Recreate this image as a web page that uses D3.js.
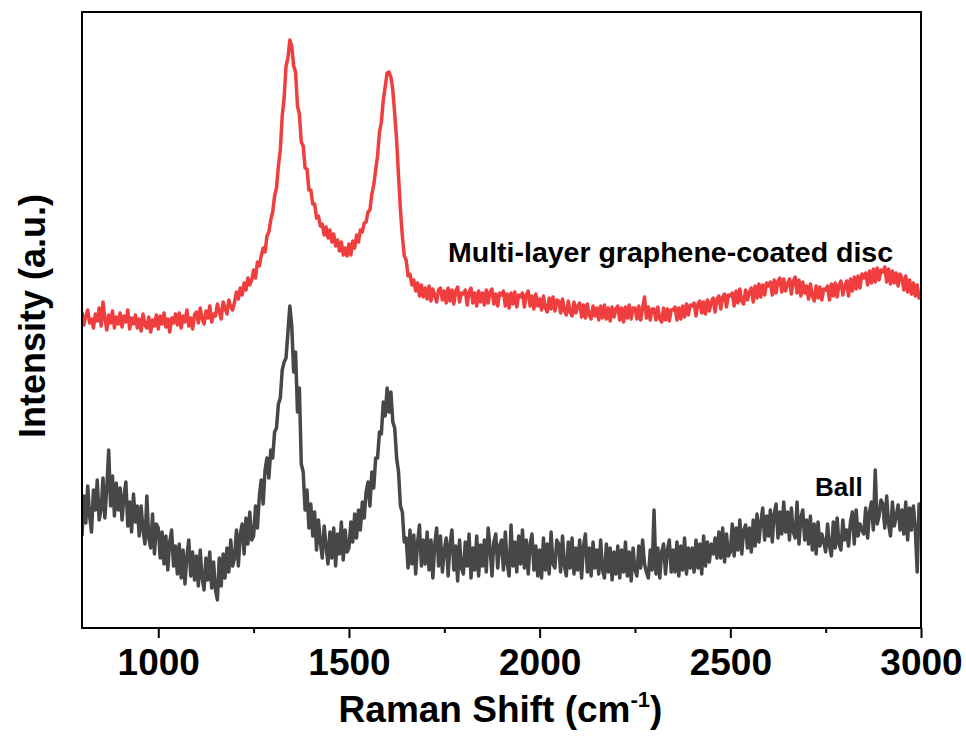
<!DOCTYPE html>
<html>
<head>
<meta charset="utf-8">
<script src="https://cdn.jsdelivr.net/npm/d3@7/dist/d3.min.js"></script>
<style>
  html, body { margin: 0; padding: 0; background: #fff; }
  svg { display: block; font-family: "Liberation Sans", Arial, sans-serif; }
</style>
</head>
<body>
<svg id="chart" width="966" height="738"></svg>
<script>
// Raman spectra sampled every 5 cm-1 from 800 to 3000 cm-1 (intensity in a.u., curves offset)
const shiftStart = 800;
const shiftStep = 5;

const discIntensity = [
  316,303,312,318,305,309,300,314,307,320,
  302,326,310,298,313,305,317,300,311,304,
  315,301,312,306,318,299,310,304,313,300,
  309,297,314,303,300,311,296,308,302,313,
  299,312,304,315,301,309,296,310,305,314,
  303,315,300,312,306,318,302,310,299,313,
  316,305,320,309,304,317,310,322,306,314,
  312,324,317,309,326,320,314,328,321,318,
  326,336,329,340,333,345,338,350,343,348,
  358,350,366,362,372,380,376,392,396,408,
  416,432,440,462,478,512,530,562,570,588,
  582,562,556,522,514,486,482,460,459,438,
  438,424,424,410,412,402,404,393,401,390,
  398,386,394,382,388,377,386,373,380,372,
  384,373,387,380,393,386,398,396,405,406,
  416,418,434,443,458,472,496,506,528,541,
  555,556,551,538,514,488,452,418,392,372,
  368,352,354,343,348,337,345,332,343,331,
  340,329,342,327,339,333,326,338,340,328,
  337,325,340,327,338,324,337,341,326,335,
  334,338,323,336,340,325,335,322,337,326,
  335,323,338,325,336,339,324,334,322,335,
  333,337,322,334,320,335,324,336,321,333,
  331,335,321,333,337,322,332,319,334,322,
  329,318,332,320,316,330,319,331,317,328,
  327,315,329,317,313,327,316,312,326,315,
  322,325,311,323,310,324,313,309,322,312,
  320,308,322,310,323,309,320,307,321,311,
  319,322,308,320,306,321,310,323,309,320,
  320,309,322,308,320,331,310,321,308,319,
  319,308,321,309,306,320,308,319,307,318,
  318,321,308,320,309,322,311,324,313,323,
  322,325,312,324,327,315,326,314,328,317,
  326,330,316,329,332,319,331,334,321,333,
  332,335,322,337,325,339,327,324,338,328,
  336,340,326,342,330,344,331,343,333,345,
  342,346,333,348,335,347,350,336,349,337,
  344,349,334,347,351,335,348,332,346,335,
  342,329,344,332,327,342,330,341,328,339,
  338,342,328,344,332,345,331,343,347,333,
  342,347,332,349,337,351,339,352,340,354,
  350,355,343,357,345,359,346,360,348,358,
  356,361,346,359,344,357,345,355,342,354,
  350,338,352,336,348,334,345,332,343,330,
  336
];

const ballIntensity = [
  92,132,105,142,112,96,138,118,148,108,
  118,150,110,140,178,122,152,112,145,118,
  140,108,132,146,102,126,96,134,106,122,
  92,122,98,84,132,90,80,114,74,104,
  100,70,96,64,92,58,86,98,62,82,
  54,84,50,78,44,72,88,52,76,48,
  72,42,78,50,38,70,48,76,40,66,
  38,28,70,42,74,50,80,56,88,62,
  70,98,62,94,104,74,110,84,116,88,
  92,122,100,132,148,124,158,170,150,178,
  170,196,200,224,230,258,266,270,296,322,
  302,256,276,216,240,164,156,118,138,100,
  124,92,116,78,108,86,70,102,82,64,
  96,70,100,62,94,74,106,68,98,76,
  80,106,86,114,90,118,98,126,110,136,
  146,122,156,140,170,170,196,194,226,212,
  240,216,236,206,200,170,156,122,116,86,
  90,60,98,64,93,54,86,103,62,88,
  64,96,58,88,50,84,100,62,92,56,
  78,90,52,84,98,58,82,47,88,60,
  54,86,62,94,50,80,58,92,52,83,
  62,88,56,100,80,52,86,94,60,82,
  88,58,96,64,52,103,62,86,56,92,
  64,98,60,88,54,84,94,58,82,52,
  78,50,90,58,84,54,96,64,60,88,
  84,56,92,62,52,86,60,90,54,80,
  58,88,50,82,94,56,80,52,86,60,
  78,54,88,58,50,84,56,80,48,76,
  54,82,50,78,56,86,52,76,47,80,
  58,52,82,60,88,64,56,50,78,58,
  118,54,80,50,76,84,54,78,88,56,
  78,56,86,52,82,58,90,54,80,60,
  80,56,88,60,84,54,92,62,86,66,
  84,74,90,70,96,70,100,66,94,72,
  76,104,72,100,78,108,74,98,103,80,
  100,76,108,82,114,86,106,120,88,112,
  92,118,86,114,124,90,116,94,126,96,
  116,88,120,96,90,126,84,110,118,88,
  108,84,112,78,104,74,106,82,94,86,
  76,104,82,72,106,80,110,84,78,108,
  88,98,82,106,116,84,118,92,104,98,
  94,120,90,116,126,98,158,104,112,128,
  124,100,132,104,92,126,102,112,123,98,
  118,94,126,88,120,98,122,100,56,124,
  111
];

const xTicksMajor = [1000, 1500, 2000, 2500, 3000];
const xTicksMinor = [1250, 1750, 2250, 2750];
const seriesNames = ["Multi-layer graphene-coated disc", "Ball"];
const seriesColors = ["#f03e3e", "#474747"];

const svg = d3.select("#chart");
const margin = { left: 82, right: 45, top: 12, bottom: 110 };
const W = 966, H = 738;
const x0 = margin.left, x1 = W - margin.right;
const y0 = H - margin.bottom, y1 = margin.top;

const x = d3.scaleLinear().domain([800, 3000]).range([x0, x1]);
const y = d3.scaleLinear().domain([0, 616]).range([y0, y1]);

const toPoints = arr => arr.map((v, i) => ({ s: shiftStart + i * shiftStep, v }));
const series = [
  { name: seriesNames[0], color: seriesColors[0], pts: toPoints(discIntensity) },
  { name: seriesNames[1], color: seriesColors[1], pts: toPoints(ballIntensity) }
];

svg.append("defs").append("clipPath").attr("id", "plotClip")
  .append("rect").attr("x", x0).attr("y", y1).attr("width", x1 - x0).attr("height", y0 - y1);

const line = d3.line().x(d => x(d.s)).y(d => y(d.v));

svg.append("g").attr("clip-path", "url(#plotClip)")
  .selectAll("path").data(series).join("path")
  .attr("d", d => line(d.pts))
  .attr("fill", "none")
  .attr("stroke", d => d.color)
  .attr("stroke-width", 3.5)
  .attr("stroke-linejoin", "round");

// Bottom axis: major ticks with labels, minor ticks without
const xAxis = d3.axisBottom(x).tickValues(xTicksMajor).tickSize(10).tickSizeOuter(0).tickPadding(11)
  .tickFormat(d3.format("d"));
const gx = svg.append("g").attr("transform", `translate(0,${y0})`).call(xAxis);
gx.select(".domain").remove();
gx.selectAll(".tick line").attr("stroke", "#000").attr("stroke-width", 2);
gx.selectAll(".tick text")
  .attr("font-size", 37).attr("font-weight", "bold").attr("fill", "#000")
  .attr("font-family", "'Liberation Sans', Arial, sans-serif");

const gxm = svg.append("g").attr("transform", `translate(0,${y0})`)
  .call(d3.axisBottom(x).tickValues(xTicksMinor).tickSize(5).tickSizeOuter(0).tickFormat(""));
gxm.select(".domain").remove();
gxm.selectAll(".tick line").attr("stroke", "#000").attr("stroke-width", 2);

// Frame
svg.append("rect").attr("x", x0).attr("y", y1).attr("width", x1 - x0).attr("height", y0 - y1)
  .attr("fill", "none").attr("stroke", "#000").attr("stroke-width", 2);

// Axis titles
const xt = svg.append("text").attr("x", (x0 + x1) / 2 - 1).attr("y", 722)
  .attr("text-anchor", "middle").attr("font-size", 37).attr("font-weight", "bold").attr("fill", "#000");
xt.append("tspan").text("Raman Shift (cm");
xt.append("tspan").text("-1").attr("font-size", 22).attr("dy", -15);
xt.append("tspan").text(")").attr("dy", 15);

svg.append("text")
  .attr("transform", `translate(45,316) rotate(-90)`)
  .attr("text-anchor", "middle").attr("font-size", 36).attr("font-weight", "bold").attr("fill", "#000")
  .text("Intensity (a.u.)");

// Curve labels
svg.append("text").attr("x", 448).attr("y", 262)
  .attr("font-size", 28.5).attr("font-weight", "bold").attr("fill", "#000")
  .text(seriesNames[0]);
svg.append("text").attr("x", 815).attr("y", 496)
  .attr("font-size", 26).attr("font-weight", "bold").attr("fill", "#000")
  .text(seriesNames[1]);
</script>
</body>
</html>
